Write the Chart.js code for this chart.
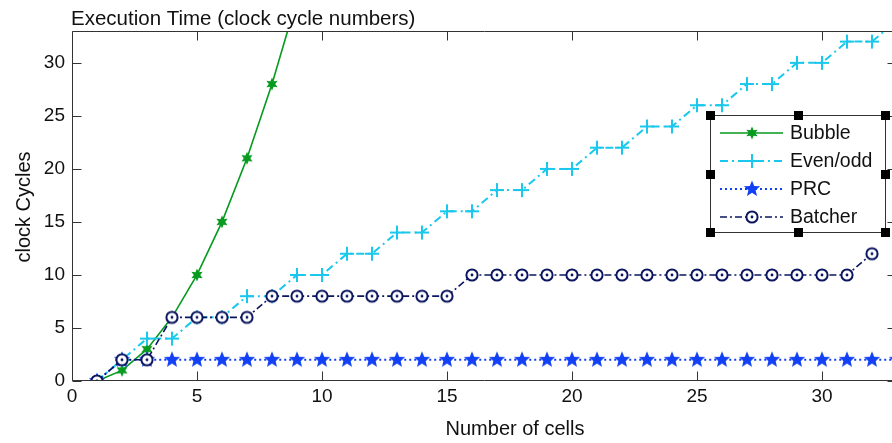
<!DOCTYPE html>
<html><head><meta charset="utf-8">
<script src="https://cdn.jsdelivr.net/npm/chart.js@4.4.0/dist/chart.umd.min.js"></script>
<style>html,body{margin:0;padding:0;overflow:hidden;background:#fff}#wrap{position:relative;width:906px;height:443px}</style>
</head><body><div id="wrap"><canvas id="c"></canvas></div>
<script>
// ---- data ----
const bubbleX = [1,2,3,4,5,6,7,8,9,10];
const bubbleY = [0,1,3,6,10,15,21,28,36,45];
const evenOddX = [1,2,3,4,5,6,7,8,9,10,11,12,13,14,15,16,17,18,19,20,21,22,23,24,25,26,27,28,29,30,31,32,33];
const evenOddY = [0,2,4,4,6,6,8,8,10,10,12,12,14,14,16,16,18,18,20,20,22,22,24,24,26,26,28,28,30,30,32,32,34];
const prcX = [1,2,3,4,5,6,7,8,9,10,11,12,13,14,15,16,17,18,19,20,21,22,23,24,25,26,27,28,29,30,31,32,33];
const prcY = [0,2,2,2,2,2,2,2,2,2,2,2,2,2,2,2,2,2,2,2,2,2,2,2,2,2,2,2,2,2,2,2,2];
const batcherX = [1,2,3,4,5,6,7,8,9,10,11,12,13,14,15,16,17,18,19,20,21,22,23,24,25,26,27,28,29,30,31,32];
const batcherY = [0,2,2,6,6,6,6,8,8,8,8,8,8,8,8,10,10,10,10,10,10,10,10,10,10,10,10,10,10,10,10,12];
const seriesNames = ['Bubble','Even/odd','PRC','Batcher'];
const xTicks = [0,5,10,15,20,25,30];
const yTicks = [0,5,10,15,20,25,30];
const titleText = 'Execution Time (clock cycle numbers)';
const xTitle = 'Number of cells';
const yTitle = 'clock Cycles';

// ---- styles ----
const FONT = "'Liberation Sans', Arial, sans-serif";
const COL = {bubble:'#069a1e', even:'#19c8ec', prc:'#1240f5', bat:'#0b1660', axis:'#333'};
function mk(size, fn){const c=document.createElement('canvas');c.width=size;c.height=size;const g=c.getContext('2d');g.translate(size/2,size/2);fn(g);return c;}
function starPath(g,n,R,r){g.beginPath();for(let i=0;i<2*n;i++){const a=i*Math.PI/n;const rr=i%2?r:R;g.lineTo(rr*Math.sin(a),-rr*Math.cos(a));}g.closePath();}
const mBubble = mk(18,g=>{starPath(g,6,6.5,3.2);g.fillStyle=COL.bubble;g.fill();});
const mEven = mk(18,g=>{g.strokeStyle=COL.even;g.lineWidth=2;g.beginPath();g.moveTo(-7,0);g.lineTo(7,0);g.moveTo(0,-7);g.lineTo(0,7);g.stroke();});
const mPrc = mk(20,g=>{starPath(g,5,8.5,3.8);g.fillStyle=COL.prc;g.fill();});
const mBat = mk(16,g=>{g.beginPath();g.arc(0,0,5.6,0,2*Math.PI);g.fillStyle='#fff';g.fill();g.lineWidth=2;g.strokeStyle=COL.bat;g.stroke();g.beginPath();g.arc(0,0,1.4,0,2*Math.PI);g.fillStyle=COL.bat;g.fill();});

const pts = (xs,ys)=>xs.map((x,i)=>({x,y:ys[i]}));

const datasets = [
  {label:seriesNames[0], data:pts(bubbleX,bubbleY), borderColor:COL.bubble, borderWidth:1.6, borderDash:[], pointStyle:mBubble, order:4},
  {label:seriesNames[1], data:pts(evenOddX,evenOddY), borderColor:COL.even, borderWidth:2, borderDash:[8,4,2,4], pointStyle:mEven, order:3},
  {label:seriesNames[2], data:pts(prcX,prcY), borderColor:COL.prc, borderWidth:2, borderDash:[2,3], pointStyle:mPrc, order:2},
  {label:seriesNames[3], data:pts(batcherX,batcherY), borderColor:COL.bat, borderWidth:1.6, borderDash:[7,3,2,3], pointStyle:mBat, order:1}
].map(d=>Object.assign({tension:0, fill:false, pointRadius:6, backgroundColor:d.borderColor}, d));

const framePlugin = {
  id:'frame',
  afterDraw(chart){
    const {ctx, chartArea:a, scales:{x, y}} = chart;
    ctx.save();
    ctx.strokeStyle = COL.axis; ctx.lineWidth = 1;
    const L=Math.round(a.left)+0.5, R=Math.round(a.right)-0.5, T=Math.round(a.top)+0.5, B=Math.round(a.bottom)-0.5;
    ctx.beginPath(); ctx.moveTo(L,T); ctx.lineTo(R,T); ctx.lineTo(R,B); ctx.lineTo(L,B); ctx.closePath(); ctx.stroke();
    const tl = 9;
    ctx.beginPath();
    xTicks.forEach(v=>{const px=Math.round(x.getPixelForValue(v))+0.5; ctx.moveTo(px,B); ctx.lineTo(px,B-tl); ctx.moveTo(px,T); ctx.lineTo(px,T+tl);});
    yTicks.forEach(v=>{const py=Math.round(y.getPixelForValue(v))+0.5; ctx.moveTo(L,py); ctx.lineTo(L+tl,py); ctx.moveTo(R,py); ctx.lineTo(R-tl,py);});
    ctx.stroke();
    // titles
    ctx.fillStyle = '#111';
    ctx.font = '20.5px ' + FONT;
    ctx.textAlign='left'; ctx.textBaseline='alphabetic';
    ctx.fillText(titleText, a.left - 1, 25);
    ctx.font = '20px ' + FONT;
    ctx.textAlign='center';
    ctx.fillText(xTitle, 515, 435);
    ctx.save(); ctx.translate(30, 207); ctx.rotate(-Math.PI/2); ctx.fillText(yTitle, 0, 0); ctx.restore();
    // legend
    const bx=710, by=115, bw=175, bh=117;
    ctx.fillStyle='#fff'; ctx.fillRect(bx,by,bw,bh);
    ctx.strokeStyle='#333'; ctx.lineWidth=1; ctx.strokeRect(bx+0.5,by+0.5,bw,bh);
    const rows=[133,161,189,217];
    chart.data.datasets.forEach((d,i)=>{
      const ry=rows[i];
      ctx.save(); ctx.strokeStyle=d.borderColor; ctx.lineWidth=d.borderWidth; ctx.setLineDash(d.borderDash);
      ctx.beginPath(); ctx.moveTo(720,ry); ctx.lineTo(783,ry); ctx.stroke(); ctx.restore();
      const m=d.pointStyle; ctx.drawImage(m, 752-m.width/2, ry-m.height/2);
      ctx.fillStyle='#111'; ctx.textAlign='left'; ctx.textBaseline='middle'; ctx.font='19.5px '+FONT;
      ctx.fillText(d.label, 790, ry+1);
    });
    ctx.fillStyle='#000';
    const hx=[bx, bx+bw/2, bx+bw], hy=[by, by+bh/2, by+bh];
    hx.forEach((cx,i)=>hy.forEach((cy,j)=>{ if(i===1&&j===1) return; ctx.fillRect(Math.round(cx-4), Math.round(cy-4), 9, 9); }));
    ctx.restore();
  }
};

new Chart(document.getElementById('c'), {
  type:'line',
  data:{datasets},
  options:{
    responsive:true, maintainAspectRatio:false, animation:false,
    layout:{padding:{top:31, right:9, left:0, bottom:0}},
    plugins:{legend:{display:false}, tooltip:{enabled:false}, title:{display:false}},
    scales:{
      x:{type:'linear', min:0, max:33,
        afterBuildTicks:s=>{s.ticks=xTicks.map(v=>({value:v}));},
        afterFit:s=>{s.height=62;},
        grid:{display:false, drawTicks:false}, border:{display:false},
        ticks:{font:{family:FONT,size:19}, color:'#111', padding:4, maxRotation:0, autoSkip:false}},
      y:{type:'linear', min:0, max:33,
        afterBuildTicks:s=>{s.ticks=yTicks.map(v=>({value:v}));},
        afterFit:s=>{s.width=72;},
        grid:{display:false, drawTicks:false}, border:{display:false},
        ticks:{font:{family:FONT,size:19}, color:'#111', padding:7, autoSkip:false}}
    }
  },
  plugins:[framePlugin]
});
</script></body></html>
